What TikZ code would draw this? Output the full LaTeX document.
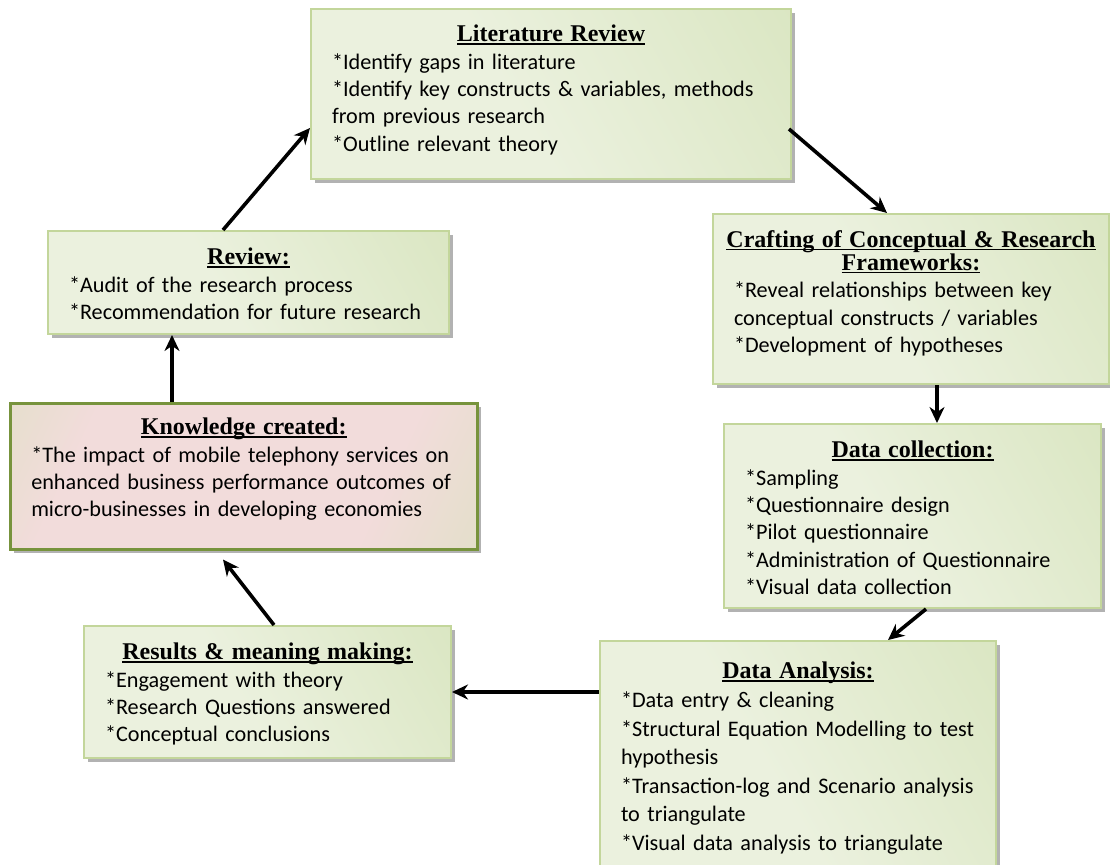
\documentclass[tikz,border=0pt]{standalone}
\usepackage{fontspec}
\setmainfont{Carlito}
\newfontfamily\headfont{Liberation Serif}
\usetikzlibrary{arrows.meta,shadows}

\definecolor{boxline}{HTML}{C3D69B}
\definecolor{boxlight}{HTML}{EBF1DE}
\definecolor{boxdark}{HTML}{D4E2B8}
\definecolor{pinkfill}{HTML}{F2DCDB}
\definecolor{kline}{HTML}{77933C}

% soft gradients of the boxes
\pgfdeclarehorizontalshading{gshade}{100bp}{color(0bp)=(boxlight); color(45bp)=(boxlight); color(100bp)=(boxdark)}
\pgfdeclarehorizontalshading{kshade}{100bp}{color(0bp)=(boxdark); color(28bp)=(pinkfill); color(68bp)=(pinkfill); color(100bp)=(boxdark)}

% bold serif heading with a word-processor style underline
\newcommand\hdline[1]{{\headfont\bfseries\fontsize{24}{27.3}\selectfont
  \setbox0\hbox{#1}\rlap{\rule[-2.8pt]{\wd0}{1.3pt}}\box0}}
% heading centred over the box (the text block carries 30pt of slack on the right)
\newcommand\hdc[1]{\makebox[\dimexpr\hsize-30pt\relax]{\hdline{#1}}}

\tikzset{
  box/.style={draw=boxline, line width=2pt, inner sep=0pt, anchor=north west,
    shading=gshade, shading angle=30,
    drop shadow={shadow xshift=4pt, shadow yshift=-4pt, fill=black!55, opacity=0.55}},
  kbox/.style={box, draw=kline, line width=2.5pt, shading=kshade, shading angle=-25},
  txt/.style={inner sep=0pt, align=left, anchor=north,
    font=\fontsize{22.2}{27.3}\selectfont},
  arr/.style={line width=3.6pt, -{Stealth[length=16pt, width=15pt]}}
}

\begin{document}
\begin{tikzpicture}[x=1pt, y=-1pt]
\useasboundingbox (0,0) rectangle (1110,864);

% boxes
\node[box, minimum width=480pt, minimum height=170pt] (lit)   at (310,8)   {};
\node[box, minimum width=396pt, minimum height=170pt] (craft) at (712,213) {};
\node[box, minimum width=377pt, minimum height=184pt] (dc)    at (723,423) {};
\node[box, minimum width=396pt, minimum height=228pt] (da)    at (599,640) {};
\node[box, minimum width=367pt, minimum height=132pt] (res)   at (83,625)  {};
\node[kbox, minimum width=467pt, minimum height=146pt] (know) at (9,402)   {};
\node[box, minimum width=401pt, minimum height=103pt] (rev)   at (47,230)  {};

% texts (text width = box width - 42pt + 30pt slack)
\node[txt, text width=468pt] (litT) at ([xshift=15pt,yshift=-17pt]lit.north) {%
  \hdc{Literature Review}\\
  {}*Identify gaps in literature\\
  {}*Identify key constructs \& variables, methods\\
  from previous research\\
  {}*Outline relevant theory};

\node[txt, text width=384pt] (craftT) at ([xshift=15pt,yshift=-17pt]craft.north) {%
  \hdc{Crafting of Conceptual \& Research}\\[-4pt]
  \hdc{Frameworks:}\\
  {}*Reveal relationships between key\\
  conceptual constructs / variables\\
  {}*Development of hypotheses};

\node[txt, text width=365pt] (dcT) at ([xshift=15pt,yshift=-18pt]dc.north) {%
  \hdc{Data collection:}\\
  {}*Sampling\\
  {}*Questionnaire design\\
  {}*Pilot questionnaire\\
  {}*Administration of Questionnaire\\
  {}*Visual data collection};

\node[txt, text width=384pt, font=\fontsize{22.2}{28.6}\selectfont] (daT) at ([xshift=15pt,yshift=-22pt]da.north) {%
  \hdc{Data Analysis:}\\
  {}*Data entry \& cleaning\\
  {}*Structural Equation Modelling to test\\
  hypothesis\\
  {}*Transaction-log and Scenario analysis\\
  to triangulate\\
  {}*Visual data analysis to triangulate};

\node[txt, text width=355pt] (resT) at ([xshift=15pt,yshift=-18pt]res.north) {%
  \hdc{Results \& meaning making:}\\
  {}*Engagement with theory\\
  {}*Research Questions answered\\
  {}*Conceptual conclusions};

\node[txt, text width=455pt] (knowT) at ([xshift=15pt,yshift=-16pt]know.north) {%
  \hdc{Knowledge created:}\\
  {}*The impact of mobile telephony services on\\
  enhanced business performance outcomes of\\
  micro-businesses in developing economies};

\node[txt, text width=389pt] (revT) at ([xshift=15pt,yshift=-18pt]rev.north) {%
  \hdc{Review:}\\
  {}*Audit of the research process\\
  {}*Recommendation for future research};

% cycle of arrows
\draw[arr] ([xshift=176pt]rev.north west) -- ([yshift=-120pt]lit.north west);
\draw[arr] ([yshift=-121pt,xshift=-3pt]lit.north east) -- ([xshift=175pt]craft.north west);
\draw[arr] ([xshift=225pt]craft.south west) -- ([xshift=214pt]dc.north west);
\draw[arr] ([xshift=203pt]dc.south west) -- ([xshift=289pt]da.north west);
\draw[arr] ([yshift=-52pt]da.north west) -- ([yshift=-52pt]da.north west -| res.east);
\draw[arr] ([xshift=191pt]res.north west) -- ([xshift=214pt,yshift=-9pt]know.south west);
\draw[arr] ([xshift=163pt]know.north west) -- ([xshift=125pt]rev.south west);
\end{tikzpicture}
\end{document}
